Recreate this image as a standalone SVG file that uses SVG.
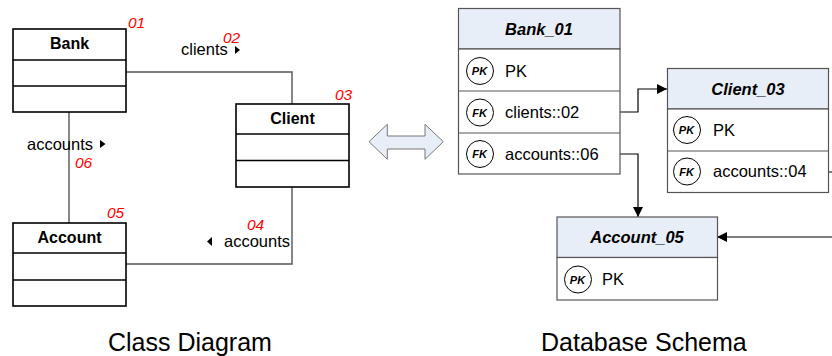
<svg xmlns="http://www.w3.org/2000/svg" width="832" height="356" viewBox="0 0 832 356">
<defs>
<style>
.cls{fill:#fff;stroke:#000;stroke-width:1.6}
.clsl{stroke:#000;stroke-width:1.6}
.tb{fill:#fff;stroke:#555;stroke-width:1.2}
.hd{fill:#E8EEF8;stroke:#555;stroke-width:1.2}
.rl{stroke:#555;stroke-width:1.2}
.cn{fill:none;stroke:#555;stroke-width:1.4}
.ca{fill:none;stroke:#000;stroke-width:1.2}
.t{font-family:"Liberation Sans",Arial,sans-serif;fill:#000}
.cb{font-size:16px;font-weight:bold}
.lb{font-size:16.5px}
.num{font-family:"Liberation Sans",Arial,sans-serif;font-size:15.5px;font-style:italic;fill:#FF0000}
.hb{font-size:16.5px;font-weight:bold;font-style:italic}
.rt{font-size:16.5px}
.kc{fill:#fff;stroke:#000;stroke-width:1}
.kt{font-family:"Liberation Sans",Arial,sans-serif;font-size:11px;font-weight:bold;font-style:italic;fill:#000}
.cap{font-family:"Liberation Sans",Arial,sans-serif;font-size:25px;fill:#000}
</style>
<marker id="ah" viewBox="0 0 10 10" refX="10" refY="5" markerWidth="10" markerHeight="10" markerUnits="userSpaceOnUse" orient="auto">
<path d="M0,0 L10,5 L0,10 z" fill="#000"/>
</marker>
</defs>

<g id="connectors">
<path class="cn" d="M126,72 H292 V104"/>
<path class="cn" d="M69,112 V223"/>
<path class="cn" d="M292,187 V264 H126"/>
<polygon points="235,46 240,50 235,54" fill="#000"/>
<polygon points="100,140 105.5,144 100,148" fill="#000"/>
<polygon points="212,237 207,241.5 212,246" fill="#000"/>
<path class="ca" d="M620,112 H638 V89 H667" marker-end="url(#ah)"/>
<path class="ca" d="M620,154 H638 V217" marker-end="url(#ah)"/>
<path class="ca" d="M828,172 H845 V237 H717" marker-end="url(#ah)"/>
</g>

<g id="label-clients">
<text class="t lb" x="181" y="55">clients</text>
<text class="num" x="223" y="42.5">02</text>
</g>
<g id="label-accounts-06">
<text class="t lb" x="27" y="150">accounts</text>
<text class="num" x="75" y="167.5">06</text>
</g>
<g id="label-accounts-04">
<text class="t lb" x="224" y="247">accounts</text>
<text class="num" x="247" y="229.5">04</text>
</g>

<g id="bank">
<rect class="cls" x="13" y="29" width="113" height="83"/>
<line class="clsl" x1="13" y1="60" x2="126" y2="60"/>
<line class="clsl" x1="13" y1="86" x2="126" y2="86"/>
<text class="t cb" x="69.5" y="49" text-anchor="middle">Bank</text>
<text class="num" x="128" y="28">01</text>
</g>

<g id="client">
<rect class="cls" x="236" y="104" width="113" height="83"/>
<line class="clsl" x1="236" y1="134" x2="349" y2="134"/>
<line class="clsl" x1="236" y1="160.5" x2="349" y2="160.5"/>
<text class="t cb" x="292.5" y="124" text-anchor="middle">Client</text>
<text class="num" x="335" y="100">03</text>
</g>

<g id="account">
<rect class="cls" x="13" y="223" width="113" height="83"/>
<line class="clsl" x1="13" y1="253" x2="126" y2="253"/>
<line class="clsl" x1="13" y1="280" x2="126" y2="280"/>
<text class="t cb" x="69.5" y="243" text-anchor="middle">Account</text>
<text class="num" x="107" y="218">05</text>
</g>

<g id="double-arrow">
<polygon points="369,141.7 387.3,124.3 387.3,136 425,136 425,124.3 443.3,141.7 425,159.3 425,149 387.3,149 387.3,159.3" fill="#E8EEF8" stroke="#777" stroke-width="1"/>
</g>

<g id="bank_01">
<rect class="hd" x="458.5" y="8.5" width="161.5" height="40.5"/>
<rect class="tb" x="458.5" y="49" width="161.5" height="125"/>
<line class="rl" x1="458.5" y1="91" x2="620" y2="91"/>
<line class="rl" x1="458.5" y1="133" x2="620" y2="133"/>
<text class="t hb" x="539" y="35" text-anchor="middle">Bank_01</text>
<circle class="kc" cx="480" cy="71" r="13.5"/>
<text class="kt" x="479.5" y="75" text-anchor="middle">PK</text>
<text class="t rt" x="505" y="76.5">PK</text>
<circle class="kc" cx="480" cy="112.5" r="13.5"/>
<text class="kt" x="479.5" y="116.5" text-anchor="middle">FK</text>
<text class="t rt" x="505" y="118">clients::02</text>
<circle class="kc" cx="480" cy="154" r="13.5"/>
<text class="kt" x="479.5" y="158" text-anchor="middle">FK</text>
<text class="t rt" x="505" y="160">accounts::06</text>
</g>

<g id="client_03">
<rect class="hd" x="667.5" y="68.5" width="161" height="40.5"/>
<rect class="tb" x="667.5" y="109" width="161" height="83.5"/>
<line class="rl" x1="667.5" y1="151" x2="828.5" y2="151"/>
<text class="t hb" x="748" y="95" text-anchor="middle">Client_03</text>
<circle class="kc" cx="687" cy="130" r="13.5"/>
<text class="kt" x="686.5" y="134" text-anchor="middle">PK</text>
<text class="t rt" x="713" y="136">PK</text>
<circle class="kc" cx="687" cy="171.5" r="13.5"/>
<text class="kt" x="686.5" y="175.5" text-anchor="middle">FK</text>
<text class="t rt" x="713" y="177">accounts::04</text>
</g>

<g id="account_05">
<rect class="hd" x="557" y="217" width="160.5" height="40.5"/>
<rect class="tb" x="557" y="257.5" width="160.5" height="42.5"/>
<text class="t hb" x="637" y="243" text-anchor="middle">Account_05</text>
<circle class="kc" cx="578" cy="279.5" r="13.5"/>
<text class="kt" x="577.5" y="283.5" text-anchor="middle">PK</text>
<text class="t rt" x="602" y="285">PK</text>
</g>

<g id="captions">
<text class="cap" x="108" y="351">Class Diagram</text>
<text class="cap" x="541" y="351">Database Schema</text>
</g>
</svg>
